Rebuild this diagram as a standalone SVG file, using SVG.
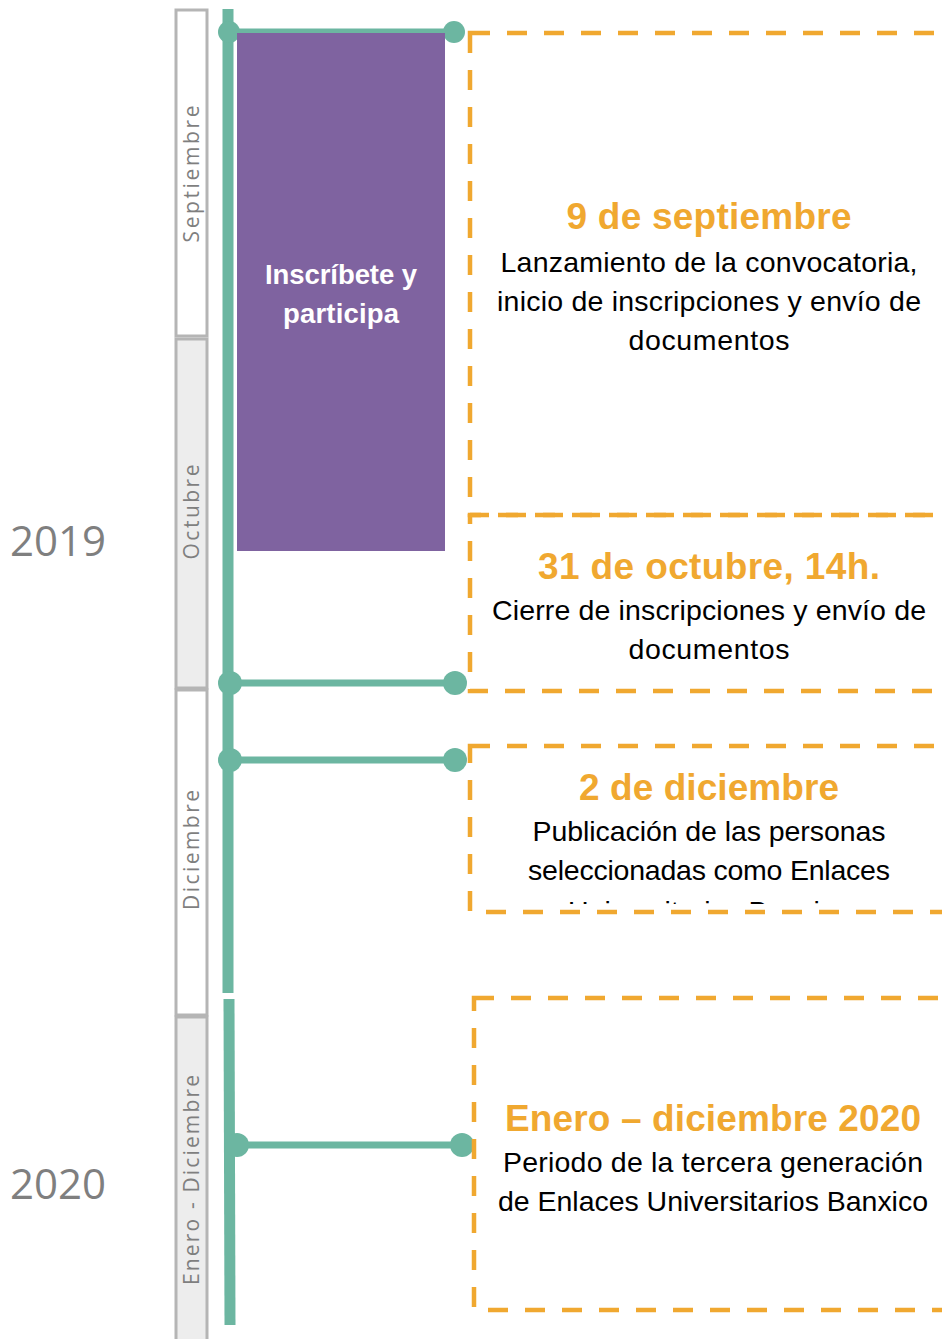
<svg xmlns="http://www.w3.org/2000/svg" width="942" height="1339" viewBox="0 0 942 1339">
<style>
.month{fill:#ffffff;stroke:#b5b5b5;stroke-width:3}
.month.alt{fill:#ededed}
.mlabel{font-family:"Open Sans","DejaVu Sans",sans-serif;font-size:21px;fill:#7f7f7f;text-anchor:middle}
.year{font-family:"Open Sans","DejaVu Sans",sans-serif;font-size:42px;fill:#7f7f7f;text-anchor:middle}
.tl{stroke:#6cb6a1;stroke-width:11;fill:none}
.br{stroke:#6cb6a1;stroke-width:7;fill:none}
.dot{fill:#6cb6a1}
.box{fill:none;stroke:#f0a830;stroke-width:4.5;stroke-dasharray:20 17}
.head{font-family:"Liberation Sans",Arial,sans-serif;font-weight:bold;font-size:37px;fill:#f0a830;text-anchor:middle}
.body{font-family:"Liberation Sans",Arial,sans-serif;font-size:28.5px;fill:#000;text-anchor:middle}
.cta{font-family:"Liberation Sans",Arial,sans-serif;font-weight:bold;font-size:27.5px;fill:#fff;text-anchor:middle}
</style>
<defs>
<clipPath id="clip3"><rect x="470" y="746" width="480" height="158"/></clipPath>
</defs>
<rect width="942" height="1339" fill="#fff"/>

<g id="months">
<g id="m-sep"><rect class="month" x="176" y="10" width="31" height="326"/><text class="mlabel" transform="translate(199,174) rotate(-90)" textLength="137">Septiembre</text></g>
<g id="m-oct"><rect class="month alt" x="176" y="339" width="31" height="349"/><text class="mlabel" transform="translate(199,512) rotate(-90)" textLength="95">Octubre</text></g>
<g id="m-dic"><rect class="month" x="176" y="690" width="31" height="325"/><text class="mlabel" transform="translate(199,850) rotate(-90)" textLength="120">Diciembre</text></g>
<g id="m-ene"><rect class="month alt" x="176" y="1017" width="31" height="330"/><text class="mlabel" transform="translate(199,1180) rotate(-90)" textLength="210">Enero - Diciembre</text></g>
</g>

<g id="years">
<text class="year" x="58" y="556">2019</text>
<text class="year" x="58" y="1199">2020</text>
</g>

<g id="connectors">
<line class="tl" x1="228" y1="9" x2="228" y2="993"/>
<line class="tl" x1="229" y1="999" x2="230" y2="1325"/>
<line class="br" x1="229" y1="31" x2="454" y2="31" style="stroke-width:5"/>
<circle class="dot" cx="229" cy="32" r="11"/>
<circle class="dot" cx="454" cy="32" r="11"/>
<line class="br" x1="230" y1="683" x2="455" y2="683"/>
<circle class="dot" cx="230" cy="683" r="12"/>
<circle class="dot" cx="455" cy="683" r="12"/>
<line class="br" x1="230" y1="760" x2="455" y2="760"/>
<circle class="dot" cx="230" cy="760" r="12"/>
<circle class="dot" cx="455" cy="760" r="12"/>
<line class="br" x1="237" y1="1145" x2="462" y2="1145"/>
<circle class="dot" cx="237" cy="1145" r="12"/>
<circle class="dot" cx="462" cy="1145" r="12"/>
</g>

<g id="cta">
<rect x="237" y="33" width="208" height="518" fill="#7f63a0"/>
<text class="cta" x="341" y="284" textLength="152">Inscríbete y</text>
<text class="cta" x="341" y="323" textLength="116">participa</text>
</g>

<g id="event1">
<rect class="box" x="470" y="33" width="490" height="482"/>
<text class="head" x="709" y="229" textLength="285">9 de septiembre</text>
<text class="body" x="709" y="272" textLength="417">Lanzamiento de la convocatoria,</text>
<text class="body" x="709" y="311" textLength="424">inicio de inscripciones y envío de</text>
<text class="body" x="709" y="350" textLength="161">documentos</text>
</g>

<g id="event2">
<rect class="box" x="470" y="515" width="490" height="176" style="stroke-dashoffset:9"/>
<text class="head" x="709" y="579" textLength="342">31 de octubre, 14h.</text>
<text class="body" x="709" y="620" textLength="434">Cierre de inscripciones y envío de</text>
<text class="body" x="709" y="659" textLength="161">documentos</text>
</g>

<g id="event3">
<g clip-path="url(#clip3)">
<text class="head" x="709" y="800" textLength="260">2 de diciembre</text>
<text class="body" x="709" y="841" textLength="353">Publicación de las personas</text>
<text class="body" x="709" y="880" textLength="362">seleccionadas como Enlaces</text>
<text class="body" x="709" y="921">Universitarios Banxico</text>
</g>
<rect class="box" x="470" y="746" width="490" height="166"/>
</g>

<g id="event4">
<rect class="box" x="474" y="998" width="490" height="312"/>
<text class="head" x="713" y="1131" textLength="416">Enero – diciembre 2020</text>
<text class="body" x="713" y="1172" textLength="420">Periodo de la tercera generación</text>
<text class="body" x="713" y="1211" textLength="430">de Enlaces Universitarios Banxico</text>
</g>
</svg>
